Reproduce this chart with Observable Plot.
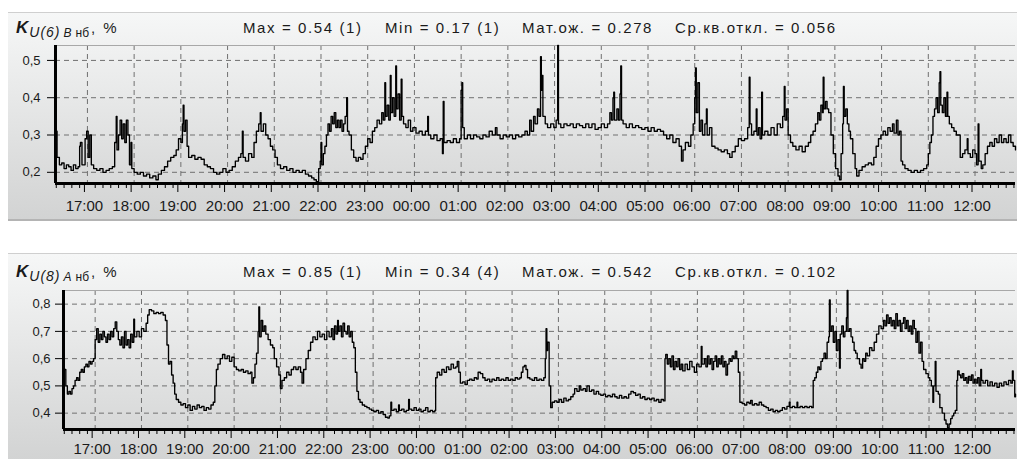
<!DOCTYPE html>
<html><head><meta charset="utf-8">
<script src="https://cdn.jsdelivr.net/npm/d3@7"></script>
<script src="https://cdn.jsdelivr.net/npm/@observablehq/plot@0.6"></script>
<style>
body{margin:0;width:1017px;height:459px;background:#fff;position:relative;overflow:hidden;font-family:"Liberation Sans",Arial,sans-serif;color:#1a1a1a}
.panel{position:absolute;left:8px;width:1009px;background:linear-gradient(#f6f7f7,#d2d3d3)}
#p1{top:12px;height:206px;border-top:1px solid #cfcfcf;border-bottom:2px solid #b4b4b4}
#p2{top:253px;height:206px;border-top:1px solid #cfcfcf}
.abs{position:absolute;left:0}
</style></head>
<body>
<div class="panel" id="p1"></div>
<div class="panel" id="p2"></div>
<div id="root"></div>
<script>
const xStart = "16:19", xEnd = "12:52";
const statLabels = ["Max = ", "Min = ", "Мат.ож. = ", "Ср.кв.откл. = "];
const stats1 = ["0.54 (1)", "0.17 (1)", "0.278", "0.056"];
const stats2 = ["0.85 (1)", "0.34 (4)", "0.542", "0.102"];
const yDomain1 = [0.17, 0.54];
const yDomain2 = [0.34, 0.85];
const yTicks1 = [0.2, 0.3, 0.4, 0.5];
const yTicks2 = [0.4, 0.5, 0.6, 0.7, 0.8];
const title1 = ["K", "U(6)", "B", "нб", ", %"];
const title2 = ["K", "U(8)", "A", "нб", ", %"];

const kU6B = [
["16:19",0.41],["16:20",0.31],["16:21",0.24],["16:24",0.22],["16:27",0.225],["16:30",0.21],["16:33",0.22],["16:36",0.215],["16:39",0.205],["16:42",0.22],["16:45",0.21],["16:48",0.215],["16:50",0.27],["16:51",0.28],["16:53",0.22],["16:57",0.29],["16:59",0.31],["17:01",0.24],["17:03",0.30],["17:05",0.22],["17:08",0.21],["17:12",0.205],["17:16",0.21],["17:20",0.2],["17:24",0.205],["17:28",0.21],["17:32",0.215],["17:35",0.28],["17:37",0.35],["17:38",0.26],["17:40",0.30],["17:42",0.34],["17:44",0.29],["17:46",0.33],["17:48",0.28],["17:50",0.34],["17:52",0.3],["17:54",0.22],["17:56",0.28],["17:57",0.21],
["18:00",0.2],["18:04",0.195],["18:08",0.2],["18:12",0.19],["18:16",0.195],["18:20",0.185],["18:24",0.19],["18:28",0.18],["18:31",0.195],["18:35",0.205],["18:39",0.215],["18:43",0.23],["18:47",0.24],["18:51",0.245],["18:54",0.26],["18:57",0.29],["19:00",0.28],["19:02",0.33],["19:03",0.38],["19:04",0.31],["19:06",0.34],["19:08",0.27],["19:10",0.24],["19:14",0.245],["19:18",0.235],["19:22",0.24],["19:26",0.235],["19:30",0.22],["19:34",0.215],["19:38",0.21],["19:42",0.2],["19:46",0.195],["19:50",0.2],["19:54",0.21],["19:58",0.2],
["20:02",0.205],["20:06",0.215],["20:10",0.23],["20:14",0.24],["20:17",0.25],["20:19",0.31],["20:20",0.24],["20:23",0.23],["20:27",0.25],["20:31",0.24],["20:34",0.28],["20:37",0.31],["20:40",0.33],["20:42",0.36],["20:43",0.31],["20:46",0.33],["20:49",0.3],["20:52",0.29],["20:55",0.27],["20:58",0.26],["21:01",0.24],["21:04",0.22],["21:08",0.21],["21:12",0.215],["21:16",0.205],["21:20",0.21],["21:24",0.2],["21:28",0.205],["21:32",0.2],["21:36",0.205],["21:40",0.195],["21:44",0.19],["21:48",0.185],["21:51",0.18],["21:54",0.175],["21:57",0.21],["21:59",0.23],
["22:00",0.28],["22:01",0.22],["22:03",0.25],["22:05",0.27],["22:07",0.3],["22:09",0.33],["22:11",0.31],["22:13",0.35],["22:15",0.33],["22:17",0.36],["22:19",0.32],["22:21",0.34],["22:23",0.32],["22:25",0.34],["22:27",0.31],["22:29",0.33],["22:31",0.35],["22:33",0.4],["22:34",0.31],["22:36",0.3],["22:39",0.26],["22:42",0.24],["22:45",0.23],["22:48",0.24],["22:51",0.235],["22:54",0.25],["22:57",0.27],
["23:00",0.29],["23:03",0.28],["23:06",0.31],["23:09",0.32],["23:12",0.34],["23:15",0.33],["23:18",0.36],["23:20",0.34],["23:22",0.44],["23:23",0.35],["23:25",0.38],["23:27",0.34],["23:29",0.46],["23:30",0.36],["23:32",0.4],["23:34",0.35],["23:36",0.485],["23:37",0.37],["23:39",0.41],["23:41",0.34],["23:43",0.45],["23:44",0.35],["23:46",0.33],["23:49",0.32],["23:52",0.34],["23:55",0.31],["23:58",0.32],
["00:02",0.305],["00:06",0.31],["00:10",0.3],["00:14",0.31],["00:17",0.35],["00:18",0.3],["00:21",0.29],["00:25",0.3],["00:29",0.285],["00:33",0.29],["00:36",0.25],["00:37",0.39],["00:38",0.28],["00:42",0.285],["00:46",0.28],["00:50",0.29],["00:54",0.28],["00:58",0.29],["01:00",0.42],["01:01",0.44],["01:02",0.32],["01:04",0.29],["01:08",0.3],["01:12",0.29],["01:16",0.3],["01:20",0.295],["01:24",0.29],["01:28",0.3],["01:32",0.295],["01:36",0.31],["01:40",0.3],["01:44",0.32],["01:46",0.3],["01:50",0.29],["01:54",0.3],["01:58",0.295],
["02:02",0.3],["02:06",0.29],["02:10",0.3],["02:14",0.295],["02:18",0.3],["02:22",0.31],["02:25",0.3],["02:28",0.34],["02:30",0.31],["02:33",0.35],["02:35",0.33],["02:38",0.37],["02:40",0.35],["02:42",0.51],["02:43",0.42],["02:44",0.46],["02:45",0.35],["02:48",0.33],["02:51",0.32],["02:55",0.33],["02:59",0.32],["03:02",0.34],["03:04",0.54],["03:05",0.33],["03:08",0.32],["03:12",0.33],["03:16",0.325],["03:20",0.33],["03:24",0.32],["03:28",0.33],["03:32",0.325],["03:36",0.32],["03:40",0.33],["03:44",0.32],["03:48",0.33],["03:52",0.315],["03:56",0.32],
["04:00",0.33],["04:04",0.32],["04:08",0.33],["04:11",0.36],["04:13",0.34],["04:15",0.4],["04:16",0.415],["04:17",0.34],["04:20",0.37],["04:22",0.34],["04:24",0.41],["04:25",0.485],["04:26",0.34],["04:28",0.33],["04:32",0.32],["04:36",0.33],["04:40",0.32],["04:44",0.325],["04:48",0.32],["04:52",0.315],["04:56",0.32],["05:00",0.31],["05:04",0.32],["05:08",0.31],["05:12",0.315],["05:16",0.31],["05:20",0.3],["05:24",0.29],["05:28",0.3],["05:32",0.28],["05:36",0.29],["05:40",0.27],["05:43",0.23],["05:45",0.26],["05:48",0.28],["05:52",0.27],["05:55",0.3],["05:58",0.33],
["06:00",0.4],["06:01",0.48],["06:02",0.36],["06:04",0.44],["06:06",0.31],["06:08",0.34],["06:10",0.3],["06:13",0.33],["06:15",0.37],["06:16",0.3],["06:19",0.32],["06:22",0.27],["06:26",0.265],["06:30",0.26],["06:34",0.255],["06:38",0.26],["06:42",0.25],["06:45",0.24],["06:48",0.255],["06:52",0.27],["06:56",0.29],["07:00",0.285],["07:04",0.29],["07:08",0.32],["07:10",0.455],["07:11",0.33],["07:13",0.3],["07:16",0.31],["07:19",0.37],["07:20",0.3],["07:22",0.32],["07:24",0.29],["07:26",0.415],["07:27",0.3],["07:30",0.31],["07:34",0.3],["07:38",0.32],["07:42",0.3],["07:46",0.33],["07:50",0.32],["07:53",0.35],["07:55",0.43],["07:56",0.34],["07:58",0.37],
["08:00",0.3],["08:03",0.28],["08:06",0.27],["08:10",0.26],["08:14",0.27],["08:18",0.255],["08:22",0.27],["08:26",0.28],["08:29",0.3],["08:32",0.31],["08:35",0.33],["08:38",0.36],["08:40",0.34],["08:42",0.38],["08:44",0.36],["08:45",0.455],["08:46",0.37],["08:48",0.39],["08:50",0.37],["08:52",0.36],["08:55",0.3],["08:58",0.25],["09:01",0.21],["09:04",0.19],["09:06",0.18],["09:08",0.25],["09:10",0.33],["09:11",0.43],["09:12",0.35],["09:14",0.37],["09:16",0.33],["09:18",0.31],["09:20",0.29],["09:23",0.25],["09:26",0.21],["09:28",0.19],["09:31",0.205],["09:35",0.215],["09:39",0.22],["09:43",0.225],["09:47",0.22],["09:50",0.24],["09:53",0.27],["09:56",0.29],["09:59",0.3],
["10:02",0.31],["10:05",0.3],["10:08",0.32],["10:11",0.31],["10:14",0.33],["10:16",0.305],["10:19",0.34],["10:21",0.3],["10:23",0.31],["10:25",0.23],["10:27",0.22],["10:30",0.21],["10:34",0.205],["10:38",0.2],["10:42",0.205],["10:46",0.2],["10:50",0.205],["10:54",0.21],["10:58",0.22],["11:00",0.25],["11:02",0.28],["11:04",0.3],["11:06",0.35],["11:08",0.37],["11:10",0.4],["11:12",0.36],["11:14",0.44],["11:15",0.47],["11:16",0.38],["11:18",0.36],["11:20",0.4],["11:22",0.35],["11:24",0.415],["11:25",0.35],["11:27",0.33],["11:30",0.32],["11:33",0.31],["11:36",0.3],["11:39",0.3],["11:41",0.24],["11:44",0.25],["11:47",0.26],["11:50",0.29],["11:51",0.25],["11:54",0.24],["11:57",0.26],
["12:00",0.25],["12:02",0.22],["12:04",0.33],["12:05",0.23],["12:08",0.21],["12:10",0.22],["12:13",0.25],["12:16",0.27],["12:19",0.28],["12:22",0.27],["12:25",0.29],["12:28",0.28],["12:31",0.3],["12:34",0.28],["12:37",0.29],["12:40",0.28],["12:43",0.3],["12:46",0.28],["12:49",0.27],["12:52",0.26]
];

const kU8A = [
["16:19",0.58],["16:20",0.56],["16:22",0.5],["16:24",0.47],["16:26",0.48],["16:28",0.47],["16:30",0.49],["16:32",0.5],["16:34",0.52],["16:36",0.53],["16:38",0.52],["16:40",0.55],["16:42",0.56],["16:44",0.55],["16:46",0.57],["16:48",0.58],["16:50",0.57],["16:52",0.59],["16:54",0.58],["16:56",0.59],["16:58",0.6],
["17:00",0.67],["17:02",0.71],["17:04",0.66],["17:06",0.69],["17:08",0.67],["17:10",0.7],["17:12",0.68],["17:14",0.66],["17:16",0.69],["17:18",0.67],["17:20",0.7],["17:22",0.68],["17:24",0.71],["17:26",0.735],["17:28",0.7],["17:30",0.67],["17:32",0.65],["17:34",0.68],["17:36",0.64],["17:38",0.7],["17:40",0.65],["17:42",0.67],["17:44",0.64],["17:46",0.69],["17:48",0.66],["17:50",0.745],["17:51",0.68],["17:54",0.7],["17:57",0.68],
["18:00",0.71],["18:03",0.7],["18:06",0.73],["18:08",0.76],["18:10",0.78],["18:13",0.775],["18:16",0.765],["18:19",0.77],["18:22",0.765],["18:25",0.77],["18:28",0.76],["18:31",0.74],["18:33",0.65],["18:35",0.58],["18:37",0.59],["18:39",0.54],["18:41",0.51],["18:43",0.47],["18:45",0.45],["18:48",0.44],["18:51",0.43],["18:54",0.435],["18:57",0.42],
["19:00",0.43],["19:03",0.41],["19:06",0.425],["19:09",0.415],["19:12",0.43],["19:15",0.42],["19:18",0.425],["19:21",0.41],["19:24",0.42],["19:27",0.415],["19:30",0.43],["19:33",0.44],["19:35",0.5],["19:37",0.56],["19:39",0.58],["19:42",0.6],["19:45",0.615],["19:48",0.6],["19:51",0.61],["19:54",0.59],["19:57",0.605],
["20:00",0.57],["20:03",0.56],["20:06",0.555],["20:09",0.56],["20:12",0.55],["20:15",0.555],["20:18",0.545],["20:21",0.55],["20:23",0.51],["20:25",0.53],["20:27",0.58],["20:29",0.62],["20:31",0.7],["20:32",0.79],["20:33",0.68],["20:35",0.74],["20:37",0.7],["20:39",0.72],["20:41",0.69],["20:44",0.67],["20:47",0.65],["20:50",0.64],["20:52",0.6],["20:55",0.57],["20:58",0.54],
["21:00",0.49],["21:02",0.52],["21:05",0.53],["21:08",0.55],["21:11",0.54],["21:14",0.56],["21:17",0.57],["21:20",0.56],["21:23",0.57],["21:26",0.55],["21:28",0.51],["21:30",0.56],["21:33",0.6],["21:36",0.63],["21:39",0.66],["21:42",0.68],["21:45",0.67],["21:48",0.7],["21:51",0.68],["21:54",0.69],["21:57",0.67],
["22:00",0.7],["22:03",0.68],["22:06",0.71],["22:08",0.67],["22:10",0.72],["22:12",0.69],["22:14",0.74],["22:15",0.7],["22:17",0.72],["22:19",0.68],["22:21",0.73],["22:23",0.7],["22:25",0.69],["22:27",0.72],["22:29",0.68],["22:31",0.7],["22:33",0.66],["22:35",0.64],["22:37",0.55],["22:39",0.48],["22:41",0.45],["22:43",0.44],["22:46",0.43],["22:49",0.425],["22:52",0.42],["22:55",0.415],["22:58",0.41],
["23:01",0.405],["23:04",0.41],["23:07",0.4],["23:10",0.405],["23:13",0.395],["23:16",0.385],["23:19",0.382],["23:21",0.39],["23:23",0.44],["23:24",0.41],["23:27",0.415],["23:30",0.405],["23:33",0.43],["23:34",0.41],["23:37",0.415],["23:40",0.405],["23:43",0.41],["23:46",0.45],["23:47",0.415],["23:50",0.41],["23:53",0.42],["23:56",0.41],["23:59",0.415],
["00:02",0.405],["00:05",0.41],["00:08",0.42],["00:11",0.405],["00:14",0.41],["00:17",0.405],["00:20",0.41],["00:21",0.53],["00:23",0.55],["00:26",0.54],["00:29",0.56],["00:32",0.55],["00:35",0.57],["00:38",0.56],["00:41",0.58],["00:44",0.565],["00:47",0.57],["00:49",0.59],["00:51",0.55],["00:53",0.51],["00:56",0.515],["00:59",0.505],
["01:02",0.52],["01:05",0.525],["01:08",0.52],["01:11",0.53],["01:14",0.525],["01:16",0.55],["01:19",0.545],["01:22",0.53],["01:25",0.52],["01:28",0.525],["01:31",0.515],["01:34",0.525],["01:37",0.52],["01:40",0.53],["01:43",0.52],["01:46",0.525],["01:49",0.52],["01:52",0.53],["01:55",0.52],["01:58",0.525],
["02:01",0.52],["02:04",0.53],["02:07",0.525],["02:10",0.53],["02:12",0.55],["02:14",0.57],["02:16",0.575],["02:18",0.56],["02:20",0.53],["02:23",0.525],["02:26",0.52],["02:29",0.53],["02:32",0.52],["02:35",0.525],["02:38",0.52],["02:41",0.53],["02:43",0.6],["02:44",0.71],["02:45",0.63],["02:46",0.66],["02:48",0.5],["02:50",0.42],["02:52",0.44],["02:55",0.445],["02:58",0.44],
["03:01",0.45],["03:04",0.44],["03:07",0.455],["03:10",0.445],["03:13",0.45],["03:16",0.46],["03:19",0.47],["03:21",0.49],["03:24",0.48],["03:27",0.5],["03:29",0.485],["03:32",0.49],["03:35",0.48],["03:37",0.5],["03:40",0.48],["03:43",0.485],["03:46",0.47],["03:49",0.48],["03:52",0.47],["03:55",0.465],["03:58",0.47],
["04:01",0.46],["04:04",0.465],["04:07",0.46],["04:10",0.47],["04:13",0.46],["04:16",0.455],["04:19",0.465],["04:22",0.455],["04:25",0.46],["04:28",0.455],["04:31",0.47],["04:34",0.48],["04:37",0.475],["04:40",0.465],["04:43",0.47],["04:46",0.455],["04:49",0.46],["04:52",0.45],["04:55",0.455],["04:58",0.45],
["05:01",0.455],["05:04",0.445],["05:07",0.45],["05:10",0.44],["05:13",0.45],["05:16",0.445],["05:18",0.6],["05:19",0.615],["05:21",0.58],["05:23",0.6],["05:25",0.57],["05:27",0.61],["05:29",0.56],["05:31",0.59],["05:33",0.57],["05:35",0.6],["05:37",0.56],["05:39",0.58],["05:41",0.555],["05:44",0.58],["05:47",0.56],["05:50",0.59],["05:53",0.57],["05:56",0.55],["05:59",0.58],
["06:02",0.57],["06:05",0.645],["06:06",0.58],["06:09",0.6],["06:11",0.57],["06:13",0.61],["06:15",0.58],["06:17",0.6],["06:19",0.56],["06:21",0.59],["06:23",0.61],["06:25",0.57],["06:27",0.6],["06:29",0.58],["06:31",0.61],["06:33",0.57],["06:35",0.59],["06:37",0.54],["06:39",0.58],["06:41",0.6],["06:43",0.59],["06:45",0.61],["06:47",0.6],["06:49",0.627],["06:51",0.6],["06:53",0.55],["06:55",0.44],["06:58",0.435],
["07:01",0.43],["07:04",0.44],["07:07",0.435],["07:09",0.447],["07:11",0.43],["07:14",0.435],["07:17",0.43],["07:20",0.44],["07:23",0.43],["07:26",0.425],["07:29",0.42],["07:32",0.41],["07:35",0.415],["07:38",0.405],["07:41",0.41],["07:44",0.405],["07:47",0.41],["07:50",0.42],["07:53",0.415],["07:56",0.425],["07:59",0.44],
["08:00",0.42],["08:03",0.425],["08:06",0.42],["08:09",0.44],["08:10",0.42],["08:13",0.425],["08:16",0.42],["08:19",0.425],["08:22",0.42],["08:25",0.425],["08:28",0.42],["08:30",0.52],["08:32",0.53],["08:34",0.55],["08:36",0.57],["08:38",0.56],["08:40",0.59],["08:42",0.6],["08:44",0.62],["08:46",0.6],["08:48",0.66],["08:50",0.68],["08:51",0.815],["08:52",0.7],["08:54",0.72],["08:56",0.66],["08:58",0.7],
["09:00",0.63],["09:02",0.67],["09:04",0.565],["09:05",0.69],["09:07",0.72],["09:09",0.68],["09:11",0.7],["09:13",0.75],["09:14",0.85],["09:15",0.7],["09:17",0.71],["09:19",0.68],["09:21",0.66],["09:23",0.63],["09:25",0.62],["09:27",0.6],["09:30",0.58],["09:32",0.565],["09:34",0.6],["09:36",0.59],["09:38",0.62],["09:40",0.61],["09:43",0.64],["09:46",0.63],["09:49",0.66],["09:52",0.69],["09:55",0.72],["09:58",0.71],
["10:01",0.74],["10:03",0.72],["10:05",0.76],["10:07",0.73],["10:09",0.75],["10:11",0.72],["10:13",0.74],["10:15",0.71],["10:17",0.765],["10:19",0.72],["10:21",0.74],["10:23",0.7],["10:25",0.73],["10:27",0.75],["10:29",0.71],["10:31",0.74],["10:33",0.7],["10:35",0.72],["10:37",0.69],["10:39",0.74],["10:41",0.71],["10:43",0.66],["10:45",0.7],["10:47",0.62],["10:49",0.66],["10:51",0.59],["10:53",0.56],["10:56",0.545],["10:59",0.53],
["11:01",0.52],["11:03",0.5],["11:05",0.44],["11:06",0.5],["11:08",0.59],["11:09",0.48],["11:12",0.47],["11:14",0.42],["11:17",0.4],["11:20",0.375],["11:22",0.36],["11:24",0.346],["11:26",0.36],["11:28",0.38],["11:30",0.39],["11:32",0.4],["11:34",0.41],["11:36",0.52],["11:37",0.555],["11:39",0.54],["11:41",0.53],["11:43",0.545],["11:45",0.52],["11:47",0.53],["11:49",0.51],["11:51",0.535],["11:53",0.52],["11:55",0.54],["11:57",0.51],["11:59",0.525],
["12:01",0.51],["12:03",0.53],["12:05",0.5],["12:07",0.56],["12:08",0.52],["12:10",0.51],["12:13",0.52],["12:16",0.5],["12:19",0.515],["12:22",0.5],["12:25",0.51],["12:28",0.495],["12:31",0.51],["12:34",0.5],["12:37",0.515],["12:40",0.505],["12:43",0.52],["12:46",0.51],["12:48",0.555],["12:49",0.52],["12:51",0.46],["12:52",0.47]
];

function parseT(s) {
  const [h, m] = s.split(":").map(Number);
  return new Date(Date.UTC(2000, 0, h >= 16 ? 1 : 2, h, m));
}
const x0 = parseT(xStart), x1 = parseT(xEnd);
const hourTicks = d3.utcHour.range(parseT("17:00"), parseT("12:01"));
const minorTicks = d3.utcMinute.every(10).range(x0, x1).filter(d => d.getUTCMinutes() !== 0);
const comma = d => d.toFixed(1).replace(".", ",");
const root = document.getElementById("root");

function header(top, titleParts, stats) {
  const svg = d3.create("svg").attr("width", 1017).attr("height", 48)
    .attr("class", "abs").style("top", top + "px")
    .attr("font-family", "'Liberation Sans', Arial, sans-serif").attr("fill", "#1a1a1a");
  const t = svg.append("text").attr("x", 16).attr("y", 33);
  t.append("tspan").attr("font-size", 17).attr("font-weight", "bold").attr("font-style", "italic").text(titleParts[0]);
  t.append("tspan").attr("font-size", 14).attr("font-style", "italic").attr("letter-spacing", "1px").attr("dy", 4).attr("dx", 1).text(titleParts[1]);
  t.append("tspan").attr("font-size", 12).attr("font-style", "italic").attr("dx", 3).text(titleParts[2]);
  t.append("tspan").attr("font-size", 12).attr("dx", 4).text(titleParts[3]);
  t.append("tspan").attr("font-size", 15).attr("letter-spacing", "2px").attr("dy", -4).attr("dx", 2).text(titleParts[4]);
  const xs = [243, 385, 522, 675];
  stats.forEach((s, i) => {
    svg.append("text").attr("x", xs[i]).attr("y", 33).attr("font-size", 15)
      .attr("letter-spacing", "1.6px").text(statLabels[i] + s);
  });
  root.appendChild(svg.node());
}

function chart(data, yDomain, yTicks, opts) {
  const p = Plot.plot({
    width: 1017, height: opts.height,
    marginLeft: opts.marginLeft, marginRight: 2, marginTop: 5, marginBottom: opts.marginBottom,
    style: {background: "transparent", overflow: "visible", fontFamily: "'Liberation Sans', Arial, sans-serif", color: "#1a1a1a"},
    x: {type: "utc", domain: [x0, x1]},
    y: {domain: yDomain},
    marks: [
      Plot.gridY(yTicks, {stroke: "#707070", strokeOpacity: 1, strokeDasharray: "5,4"}),
      Plot.gridX(hourTicks, {stroke: "#707070", strokeOpacity: 1, strokeDasharray: "5,4"}),
      Plot.ruleY([yDomain[1]], {stroke: "#a8a8a8"}),
      Plot.line(data, {x: d => parseT(d[0]), y: d => d[1], stroke: "#000", strokeWidth: 1.35, curve: "step-after"}),
      Plot.axisX(minorTicks, {tickSize: 5, tickFormat: () => "", stroke: "#000"}),
      Plot.axisX(hourTicks, {tickSize: 9, tickPadding: opts.xPad, tickFormat: d3.utcFormat("%H:%M"), fontSize: 15, stroke: "#000", dx: -3}),
      Plot.axisY(yTicks, {tickSize: 8, tickPadding: opts.yPad, tickFormat: comma, fontSize: 13, stroke: "#000"}),
      Plot.ruleX([x0], {stroke: "#000", strokeWidth: 3}),
      Plot.ruleY([yDomain[0]], {stroke: "#000", strokeWidth: 3})
    ]
  });
  p.classList.add("abs");
  p.style.top = opts.top + "px";
  root.appendChild(p);
}

header(0, title1, stats1);
chart(kU6B, yDomain1, yTicks1, {top: 40, height: 180, marginLeft: 55, marginBottom: 37, xPad: 8, yPad: 7});
header(243.5, title2, stats2);
chart(kU8A, yDomain2, yTicks2, {top: 285, height: 174, marginLeft: 63, marginBottom: 30, xPad: 5, yPad: 5});
</script>
</body></html>
